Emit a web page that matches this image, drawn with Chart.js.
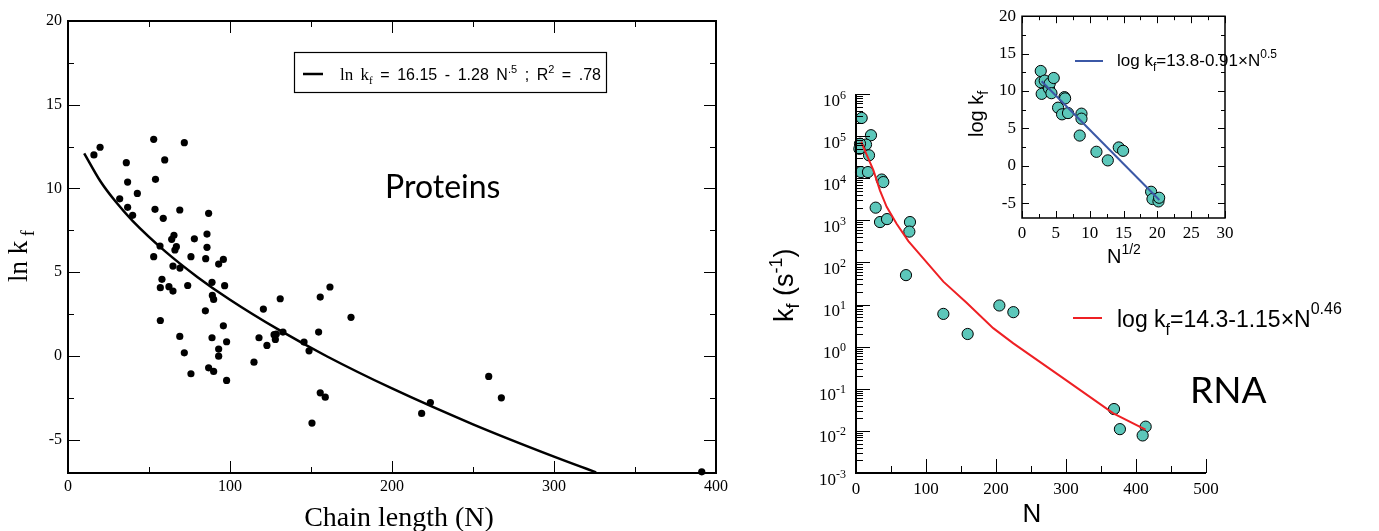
<!DOCTYPE html>
<html>
<head>
<meta charset="utf-8">
<script src="https://cdn.jsdelivr.net/npm/chart.js@4.4.1/dist/chart.umd.min.js"></script>
<style>
  body { margin: 0; background: #fff; width: 1379px; height: 531px; position: relative; overflow: hidden; }
  canvas { position: absolute; }
</style>
</head>
<body>
<canvas id="proteins" width="740" height="531" style="left:0;top:0;width:740px;height:531px"></canvas>
<canvas id="rna" width="639" height="531" style="left:740px;top:0;width:639px;height:531px"></canvas>
<canvas id="inset" width="330" height="300" style="left:960px;top:0;width:330px;height:300px"></canvas>
<script>
// ---- proteins panel ----
const proteinN = [16, 19.8, 52.9, 71.8, 36, 59.7, 36.8, 54, 42.8, 31.9, 36.8, 39.9, 53.7, 69, 58.8, 86.8,
  65.4, 64, 66.9, 66, 56.8, 78, 85.8, 85.8, 52.9, 75.9, 85, 95.9, 93, 64.8, 69.1, 58, 57, 62.3, 64.8,
  73.9, 88.9, 96.7, 89.1, 89.9, 84.8, 57, 95.9, 69, 88.9, 97.9, 93, 71.8, 93, 75.9, 86.8, 89.9, 97.9,
  120.6, 117.9, 122.8, 114.8, 131, 127.2, 128.6, 128, 132.7, 145.7, 148.8, 150.6, 154.7, 155.7, 161.7,
  155.7, 158.8, 174.7, 218.3, 223.7, 259.7, 267.5, 391.2];
const proteinLnK = [12.0, 12.46, 12.93, 12.73, 11.54, 11.7, 10.38, 10.54, 9.7, 9.38, 8.87, 8.39, 8.75, 8.71, 8.21, 8.51,
  7.2, 6.96, 6.52, 6.32, 6.56, 6.99, 7.27, 6.48, 5.92, 5.92, 5.8, 5.76, 5.48, 5.36, 5.24, 4.57, 4.07, 4.13, 3.87,
  4.2, 4.39, 4.19, 3.61, 3.37, 2.69, 2.11, 1.79, 1.16, 1.08, 0.84, 0.4, 0.18, -0.02, -1.07, -0.72, -0.93, -1.47,
  2.79, 1.08, 0.62, -0.38, 3.41, 1.26, 1.3, 0.98, 1.42, 0.82, 0.3, -4.02, 1.42, 3.51, 4.11,
  -2.21, -2.47, 2.3, -3.44, -2.79, -1.23, -2.51, -6.93];
const proteinFitN = [10, 20, 30, 40, 60, 80, 100, 130, 160, 200, 250, 300, 326];
const proteinFitLnK = [12.1, 10.43, 9.14, 8.05, 6.24, 4.7, 3.35, 1.56, -0.04, -1.95, -4.09, -6.02, -6.96];
const proteinXTicks = [0, 100, 200, 300, 400];
const proteinYTicks = [-5, 0, 5, 10, 15, 20];

// ---- RNA panel ----
const rnaN = [8.1, 21.4, 14.3, 5.7, 4.8, 18.6, 7.1, 17.1, 36.7, 39, 28.1, 34.3, 44.3, 77.1, 76.2, 71.4,
  124.8, 204.8, 224.8, 159.5, 368.6, 377, 413.8, 409.5];
const rnaK = [2.7e5, 1.05e5, 6.3e4, 6.6e4, 5.0e4, 3.5e4, 1.4e4, 1.4e4, 9.3e3, 8.1e3, 2.0e3, 910, 1070, 910, 540, 50,
  6.0, 9.5, 6.6, 2.0, 0.033, 0.011, 0.0126, 0.0078];
const rnaFitN = [7.6, 10.5, 24.8, 34.3, 43.8, 58, 74.8, 124.8, 158, 196, 224.8, 300, 367.6, 413.6];
const rnaFitK = [7.4e4, 5.5e4, 1.55e4, 5.1e3, 2.1e3, 830, 320, 35, 11, 2.75, 1.2, 0.16, 0.026, 0.0107];
const rnaXTicks = [0, 100, 200, 300, 400, 500];
const rnaYExponents = [-3, -2, -1, 0, 1, 2, 3, 4, 5, 6];

// ---- inset ----
const insetSqrtN = [2.77, 2.77, 2.91, 3.36, 4.0, 4.1, 4.69, 4.35, 5.33, 5.92, 6.27, 6.37, 6.8, 8.79, 8.79, 8.53,
  11.0, 12.68, 14.3, 14.94, 19.08, 19.28, 20.17, 20.27];
const insetLogK = [12.67, 11.16, 9.61, 11.38, 10.3, 11.0, 11.73, 9.7, 7.76, 6.87, 9.17, 9.0, 7.04, 6.96, 6.29, 4.03,
  1.86, 0.71, 2.44, 1.99, -3.49, -4.46, -4.78, -4.29];
const insetFitX = [2.9, 20.3];
const insetFitY = [11.3, -4.6];
const insetXTicks = [0, 5, 10, 15, 20, 25, 30];
const insetYTicks = [-5, 0, 5, 10, 15, 20];

const serif = "'Liberation Serif', 'Times New Roman', serif";
const sans = "'Liberation Sans', Arial, sans-serif";
const humanist = "Lato, 'Open Sans', sans-serif";
const teal = '#5cc7ba';

Chart.defaults.color = '#000';
Chart.defaults.animation = false;

const pts = (xs, ys) => xs.map((v, i) => ({ x: v, y: ys[i] }));
const mids = arr => arr.slice(1).map((v, i) => (v + arr[i]) / 2);

// draw a run of text pieces: [text, size, family, dy]; optional width stretches the spaces
function rich(ctx, parts, x, y, align, width) {
  let w = 0;
  parts.forEach(p => { ctx.font = p[1] + 'px ' + p[2]; w += ctx.measureText(p[0]).width; });
  let gap = 0;
  if (width) {
    const spaces = parts.reduce((n, p) => n + (p[0].match(/ /g) || []).length, 0);
    gap = (width - w) / spaces;
    w = width;
  }
  let cx = align === 'center' ? x - w / 2 : align === 'right' ? x - w : x;
  ctx.textAlign = 'left';
  ctx.textBaseline = 'alphabetic';
  parts.forEach(p => {
    ctx.font = p[1] + 'px ' + p[2];
    p[0].split(' ').forEach((b, i) => {
      if (i > 0) cx += ctx.measureText(' ').width + gap;
      ctx.fillText(b, cx, y + (p[3] || 0));
      cx += ctx.measureText(b).width;
    });
  });
}

function richUp(ctx, parts, x, y) {
  ctx.save();
  ctx.translate(x, y);
  ctx.rotate(-Math.PI / 2);
  rich(ctx, parts, 0, 0, 'left');
  ctx.restore();
}

// inward ticks, frame and annotations, drawn after everything else
function framePlugin(o) {
  return {
    id: 'frame',
    afterDraw(chart) {
      const ctx = chart.ctx;
      const a = chart.chartArea;
      const sx = chart.scales.x, sy = chart.scales.y;
      ctx.save();
      ctx.strokeStyle = '#000';
      ctx.fillStyle = '#000';
      ctx.lineWidth = 1;
      const segs = [];
      o.xMajor.forEach(v => segs.push(['x', sx.getPixelForValue(v), o.major]));
      o.xMinor.forEach(v => segs.push(['x', sx.getPixelForValue(v), o.minor]));
      o.yMajor.forEach(v => segs.push(['y', sy.getPixelForValue(v), o.major]));
      o.yMinor.forEach(v => segs.push(['y', sy.getPixelForValue(v), o.minor]));
      segs.forEach(([k, pos, len]) => {
        const p = Math.round(pos) + 0.5;
        ctx.beginPath();
        if (k === 'x') {
          ctx.moveTo(p, a.bottom); ctx.lineTo(p, a.bottom - len);
          if (o.box) { ctx.moveTo(p, a.top); ctx.lineTo(p, a.top + len); }
        } else {
          ctx.moveTo(a.left, p); ctx.lineTo(a.left + len, p);
          if (o.box) { ctx.moveTo(a.right, p); ctx.lineTo(a.right - len, p); }
        }
        ctx.stroke();
      });
      ctx.lineWidth = o.lw;
      ctx.beginPath();
      if (o.box) {
        ctx.rect(a.left, a.top, a.right - a.left, a.bottom - a.top);
      } else {
        ctx.moveTo(a.left, a.top); ctx.lineTo(a.left, a.bottom); ctx.lineTo(a.right, a.bottom);
      }
      ctx.stroke();
      o.text(chart);
      ctx.restore();
    }
  };
}

function axis(min, max, ticks, size, pad, fit) {
  return {
    type: 'linear', min, max,
    afterBuildTicks: s => { s.ticks = ticks.map(v => ({ value: v })); },
    afterFit: fit,
    grid: { display: false, drawTicks: false },
    border: { display: false },
    ticks: { font: { family: serif, size }, color: '#000', padding: pad, autoSkip: false, maxRotation: 0 }
  };
}

const quiet = { legend: { display: false }, tooltip: { enabled: false } };

// ---------- Proteins ----------
new Chart(document.getElementById('proteins'), {
  type: 'scatter',
  data: {
    datasets: [
      { type: 'line', data: pts(proteinFitN, proteinFitLnK), borderColor: '#000', borderWidth: 2.5,
        pointRadius: 0, cubicInterpolationMode: 'monotone', fill: false, order: 0 },
      { data: pts(proteinN, proteinLnK), backgroundColor: '#000', borderWidth: 0, pointRadius: 3.6,
        clip: false, order: 1 }
    ]
  },
  options: {
    responsive: false, devicePixelRatio: 1,
    layout: { padding: { left: 0, top: 21, right: 24, bottom: 0 } },
    plugins: quiet,
    scales: {
      x: axis(0, 400, proteinXTicks, 16, 4, s => { s.height = 58; }),
      y: axis(-7, 20, proteinYTicks, 16, 6, s => { s.width = 68; })
    }
  },
  plugins: [framePlugin({
    box: true, lw: 2, major: 12, minor: 6,
    xMajor: proteinXTicks, xMinor: mids(proteinXTicks),
    yMajor: proteinYTicks, yMinor: mids(proteinYTicks),
    text: chart => {
      const ctx = chart.ctx;
      ctx.lineWidth = 1.2;
      ctx.strokeRect(294.5, 52.5, 312, 40);
      ctx.lineWidth = 2.5;
      ctx.beginPath(); ctx.moveTo(303, 74); ctx.lineTo(323, 74); ctx.stroke();
      rich(ctx, [['ln k', 17, serif], ['f', 11, serif, 4], [' = 16.15 - 1.28 N', 16, sans], ['.5', 11, sans, -7],
        [' ; R', 16, sans], ['2', 11, sans, -7], [' = .78', 16, sans]], 340, 80, 'left', 261);
      rich(ctx, [['Proteins', 32, humanist]], 385, 198);
      rich(ctx, [['Chain length (N)', 28, serif]], 399, 526, 'center');
      richUp(ctx, [['ln k', 27, serif], [' f', 18, serif, 7]], 27, 282);
    }
  })]
});

// ---------- RNA ----------
const logMinor = [];
rnaYExponents.slice(0, -1).forEach(e => { for (let m = 2; m <= 9; m++) logMinor.push(m * Math.pow(10, e)); });

new Chart(document.getElementById('rna'), {
  type: 'scatter',
  data: {
    datasets: [
      { type: 'line', data: pts(rnaFitN, rnaFitK), borderColor: '#ee2024', borderWidth: 2,
        pointRadius: 0, fill: false, order: 0 },
      { data: pts(rnaN, rnaK), backgroundColor: teal, borderColor: '#000', borderWidth: 1,
        pointRadius: 5.6, clip: false, order: 1 }
    ]
  },
  options: {
    responsive: false, devicePixelRatio: 1,
    layout: { padding: { left: 0, top: 94, right: 173, bottom: 0 } },
    plugins: quiet,
    scales: {
      x: axis(0, 500, rnaXTicks, 17, 6, s => { s.height = 58; }),
      y: {
        type: 'logarithmic', min: 1e-3, max: 1e6,
        afterFit: s => { s.width = 116; },
        grid: { display: false, drawTicks: false },
        border: { display: false },
        ticks: { display: false }
      }
    }
  },
  plugins: [framePlugin({
    box: false, lw: 2, major: 14, minor: 7,
    xMajor: rnaXTicks, xMinor: mids(rnaXTicks),
    yMajor: rnaYExponents.map(e => Math.pow(10, e)), yMinor: logMinor,
    text: chart => {
      const ctx = chart.ctx, y = chart.scales.y;
      rnaYExponents.forEach(e => {
        const p = y.getPixelForValue(Math.pow(10, e));
        rich(ctx, [['10', 17, serif], [String(e), 12, serif, -7]], 106, p + 11.5, 'right');
      });
      rich(ctx, [['N', 26, sans]], 292, 522, 'center');
      richUp(ctx, [['k', 27, sans], ['f', 18, sans, 6], [' (s', 27, sans], ['-1', 18, sans, -11], [')', 27, sans]], 53, 322);
      ctx.strokeStyle = '#ee2024';
      ctx.lineWidth = 2;
      ctx.beginPath(); ctx.moveTo(333, 318); ctx.lineTo(362, 318); ctx.stroke();
      rich(ctx, [['log k', 23, sans], ['f', 16, sans, 8], ['=14.3-1.15×N', 23, sans], ['0.46', 16, sans, -13]], 377, 327);
      rich(ctx, [['RNA', 37, humanist]], 450, 403);
    }
  })]
});

// ---------- inset ----------
new Chart(document.getElementById('inset'), {
  type: 'scatter',
  data: {
    datasets: [
      { type: 'line', data: pts(insetFitX, insetFitY), borderColor: '#3b58a6', borderWidth: 2,
        pointRadius: 0, fill: false, order: 0 },
      { data: pts(insetSqrtN, insetLogK), backgroundColor: teal, borderColor: '#000', borderWidth: 1,
        pointRadius: 5.6, clip: false, order: 1 }
    ]
  },
  options: {
    responsive: false, devicePixelRatio: 1,
    layout: { padding: { left: 0, top: 15, right: 65, bottom: 0 } },
    plugins: quiet,
    scales: {
      x: axis(0, 30, insetXTicks, 17, 5, s => { s.height = 82; }),
      y: axis(-7, 20, insetYTicks, 17, 6, s => { s.width = 62; })
    }
  },
  plugins: [framePlugin({
    box: true, lw: 1.5, major: 7, minor: 4,
    xMajor: insetXTicks, xMinor: mids(insetXTicks),
    yMajor: insetYTicks, yMinor: mids(insetYTicks),
    text: chart => {
      const ctx = chart.ctx;
      richUp(ctx, [['log k', 20, sans], ['f', 14, sans, 5]], 23, 137);
      rich(ctx, [['N', 20, sans], ['1/2', 14, sans, -9]], 147, 263);
      ctx.strokeStyle = '#3b58a6';
      ctx.lineWidth = 2;
      ctx.beginPath(); ctx.moveTo(115, 61); ctx.lineTo(143, 61); ctx.stroke();
      rich(ctx, [['log k', 17, sans], ['f', 12, sans, 5], ['=13.8-0.91×N', 17, sans], ['0.5', 12, sans, -8]], 157, 66);
    }
  })]
});
</script>
</body>
</html>
